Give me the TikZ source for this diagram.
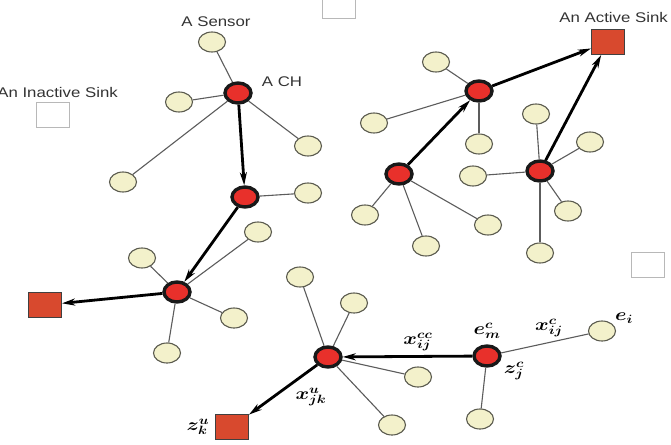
\documentclass[tikz,border=0pt]{standalone}
\usepackage{fontspec}
\setmainfont{Liberation Sans}[FakeStretch=1.2]
\usepackage{bm}
\usetikzlibrary{shapes.geometric,arrows.meta}
\definecolor{sensorfill}{HTML}{F3F1CB}
\definecolor{sensorline}{HTML}{5A5A4E}
\definecolor{chfill}{HTML}{E8302B}
\definecolor{sinkfill}{HTML}{D8492E}
\definecolor{idleline}{HTML}{B8B8B8}
\definecolor{linkgray}{HTML}{5C5C5C}
\newcommand\lbl[1]{\scalebox{1.2}[1]{$\bm{#1}$}}

\begin{document}
\begin{tikzpicture}[x=1pt,y=-1pt,
  sensor/.style={ellipse,draw=sensorline,fill=sensorfill,line width=1.1,minimum width=27,minimum height=20,inner sep=0},
  head/.style={ellipse,draw=black!90,fill=chfill,line width=3.4,minimum width=26,minimum height=20,inner sep=0},
  sink/.style={draw=black!75,fill=sinkfill,line width=1,minimum width=33,minimum height=25,inner sep=0},
  idle/.style={draw=idleline,fill=white,line width=1,minimum width=33,minimum height=25,inner sep=0},
  link/.style={draw=linkgray,line width=1.1},
  hop/.style={draw=black,line width=2.8,-{Stealth[length=13pt,width=7pt,inset=4pt]}},
  tag/.style={text=black!80,font=\fontsize{14}{16}\selectfont,inner sep=0},
  mtag/.style={font=\LARGE,inner sep=0}]
\useasboundingbox (0,0) rectangle (671,444);
\clip (0,0) rectangle (671,444);
% sinks
\node[idle] (idle1) at (53,115) {};
\node[idle] (idle2) at (339,6) {};
\node[idle] (idle3) at (648,265) {};
\node[sink] (sink1) at (608,42) {};
\node[sink] (sink2) at (45,305) {};
\node[sink] (sink3) at (232,427) {};
% cluster heads
\node[head] (ch1) at (238,93) {};
\node[head] (ch2) at (245,197) {};
\node[head] (ch3) at (177,292) {};
\node[head] (ch4) at (479,91) {};
\node[head] (ch5) at (399,174) {};
\node[head] (ch6) at (540,171) {};
\node[head] (ch7) at (328,357) {};
\node[head] (ch8) at (487,356) {};
% sensors, upper left
\node[sensor] (s11) at (212,42) {};
\node[sensor] (s12) at (179,102) {};
\node[sensor] (s13) at (308,146) {};
\node[sensor] (s14) at (123,182) {};
\node[sensor] (s21) at (308,193) {};
\node[sensor] (s31) at (142,258) {};
\node[sensor] (s32) at (258,232) {};
\node[sensor] (s33) at (234,318) {};
\node[sensor] (s34) at (167,353) {};
% sensors, upper right
\node[sensor] (s41) at (436,62) {};
\node[sensor] (s42) at (374,123) {};
\node[sensor] (s43) at (479,144) {};
\node[sensor] (s51) at (365,215) {};
\node[sensor] (s52) at (426,246) {};
\node[sensor] (s53) at (488,225) {};
\node[sensor] (s61) at (536,114) {};
\node[sensor] (s62) at (590,142) {};
\node[sensor] (s63) at (473,176) {};
\node[sensor] (s64) at (568,211) {};
\node[sensor] (s65) at (540,253) {};
% sensors, bottom
\node[sensor] (s71) at (300,277) {};
\node[sensor] (s72) at (354,303) {};
\node[sensor] (s73) at (418,377) {};
\node[sensor] (s74) at (392,425) {};
\node[sensor] (s81) at (602,331) {};
\node[sensor] (s82) at (480,419) {};
% links
\foreach \s in {s11,s12,s13,s14} \draw[link] (ch1) -- (\s);
\draw[link] (ch2) -- (s21);
\foreach \s in {s31,s32,s33,s34} \draw[link] (ch3) -- (\s);
\foreach \s in {s41,s42,s43} \draw[link] (ch4) -- (\s);
\foreach \s in {s51,s52,s53} \draw[link] (ch5) -- (\s);
\foreach \s in {s61,s62,s63,s64,s65} \draw[link] (ch6) -- (\s);
\foreach \s in {s71,s72,s73,s74} \draw[link] (ch7) -- (\s);
\foreach \s in {s81,s82} \draw[link] (ch8) -- (\s);
% routes
\draw[hop] (ch1) -- (ch2);
\draw[hop] (ch2) -- (ch3);
\draw[hop] (ch3) -- (sink2);
\draw[hop] (ch5) -- (ch4);
\draw[hop] (ch4) -- (sink1);
\draw[hop] (ch6) -- (sink1);
\draw[hop] (ch8) -- (ch7);
\draw[hop] (ch7) -- (sink3);
% labels
\node[tag] (tsensor) at (216,22) {A Sensor};
\node[tag] (tch) at (282,82) {A CH};
\node[tag,anchor=east] (tidle) at (118,92) {An Inactive Sink};
\node[tag,anchor=east] (tactive) at (668,17) {An Active Sink};
\node[mtag] (txcc) at (418,342) {\lbl{x^{cc}_{ij}}};
\node[mtag] (tem) at (487,331) {\lbl{e^{c}_{m}}};
\node[mtag] (tzj) at (514,371) {\lbl{z^{c}_{j}}};
\node[mtag] (txc) at (549,328) {\lbl{x^{c}_{ij}}};
\node[mtag] (tei) at (624,318) {\lbl{e_{i}}};
\node[mtag] (txu) at (311,397) {\lbl{x^{u}_{jk}}};
\node[mtag] (tzk) at (198,427) {\lbl{z^{u}_{k}}};
\end{tikzpicture}
\end{document}
